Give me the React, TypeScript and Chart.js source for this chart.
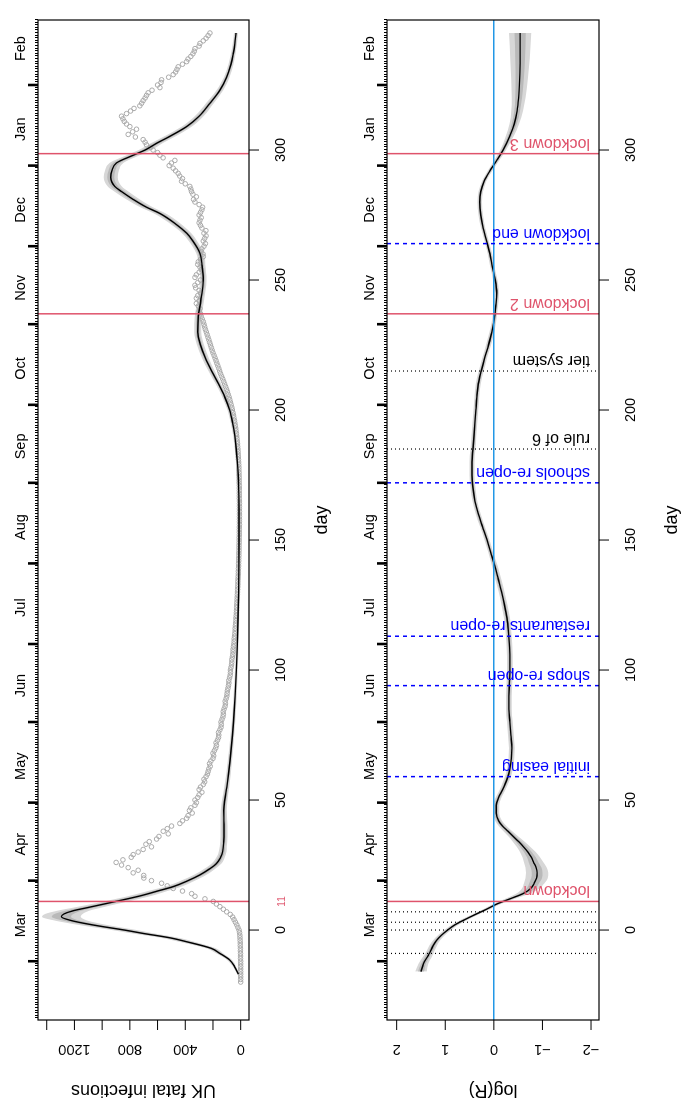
import React, { useEffect, useRef } from "react";
import { Chart, registerables } from "chart.js";

Chart.register(...registerables);

const FONT = '"Liberation Sans", Arial, Helvetica, sans-serif';
const RED = "#DF536B";
const BLUE = "#0000FF";
const SKY = "#2297E6";
const BAND_OUTER = "#D7D7D7";
const BAND_INNER = "#B9B9B9";

// ---- shared day axis ----
const DAY_MIN = -34.6;
const DAY_MAX = 350;
const dayTicks = [0, 50, 100, 150, 200, 250, 300];
const monthNames = ["Mar", "Apr", "May", "Jun", "Jul", "Aug", "Sep", "Oct", "Nov", "Dec", "Jan", "Feb"];
const monthMidDays = [2, 33, 63, 94, 124, 155, 186, 216, 247, 277, 308, 339];
const monthStartDays = [-12, 19, 49, 80, 110, 141, 172, 202, 233, 263, 294, 325];

// ---- panel 1: UK fatal infections ----
const p1Days = [-17, -14, -11.5, -9, -7, -4.5, -3, -1.3, 0, 1.5, 3, 3.8, 5.1, 6.2, 7.4, 8.8, 10.2, 11.6, 13.1, 15, 16.7, 19, 21.2, 23.5, 25.6, 28, 30.1, 34, 38, 42, 46, 50, 55, 60, 70, 80, 90, 100, 110, 120, 130, 140, 150, 160, 170, 175, 180, 185, 190, 195, 200, 205, 210, 215, 220, 225, 230, 236, 242, 250, 256, 260.3, 265, 268, 272, 275.6, 278, 281, 284, 286, 289.5, 292, 295, 298, 300, 302.6, 305, 309, 313, 318, 323, 328, 333, 337, 341, 345];
const p1Fit = [17, 45, 80, 150, 215, 390, 510, 704, 840, 1017, 1170, 1234, 1294, 1275, 1210, 1090, 969, 850, 728, 600, 487, 380, 294, 225, 174, 145, 130, 122, 120, 121, 122, 115, 100, 88, 68, 52, 40, 31, 24, 19, 15, 13, 12, 12, 15, 18, 24, 32, 42, 58, 80, 115, 160, 210, 255, 290, 310, 306, 288, 270, 280, 294, 345, 390, 480, 583, 680, 776, 860, 909, 938, 930, 897, 776, 690, 607, 520, 390, 300, 222, 150, 101, 70, 54, 42, 34];
const p1Outer = [8, 12, 18, 25, 35, 55, 65, 80, 90, 100, 110, 120, 140, 135, 115, 100, 90, 85, 80, 70, 60, 50, 45, 40, 35, 30, 28, 25, 25, 24, 22, 20, 18, 16, 14, 12, 11, 10, 9, 9, 8, 8, 8, 8, 8, 8, 9, 10, 11, 13, 15, 18, 20, 22, 24, 25, 25, 25, 24, 24, 25, 27, 30, 33, 38, 42, 45, 48, 50, 50, 50, 50, 50, 48, 46, 43, 40, 36, 32, 28, 24, 20, 18, 16, 15, 14];
const p1Inner = [4, 6, 9, 13, 18, 28, 33, 40, 45, 50, 55, 60, 70, 68, 58, 50, 45, 43, 40, 35, 30, 25, 23, 20, 18, 15, 14, 13, 13, 12, 11, 10, 9, 8, 7, 6, 6, 5, 5, 5, 4, 4, 4, 4, 4, 4, 5, 5, 6, 7, 8, 9, 10, 11, 12, 13, 13, 13, 12, 12, 13, 14, 15, 17, 19, 21, 23, 24, 25, 25, 25, 25, 25, 24, 23, 22, 20, 18, 16, 14, 12, 10, 9, 8, 8, 7];

// daily deaths, first value is day -20
const deathFirstDay = -20;
const deaths = [
  0, 0, 0, 0, 0, 0, 0, 0, 0, 1, 1, 1, 2, 2, 3, 3, 4, 5, 6, 8,
  12, 20, 28, 38, 48, 58, 75, 101, 125, 150, 175, 198, 258, 330, 354, 420, 487, 530, 571, 644,
  699, 700, 776, 740, 812, 860, 899, 850, 790, 776, 740, 704, 644, 684, 660, 607, 590, 523, 559, 530,
  499, 439, 420,
  390, 380, 350, 370, 360, 330, 320, 330, 310, 300, 280, 300, 290, 270, 260, 265, 250, 240,
  235, 230, 220, 225, 215, 200, 195, 200, 190, 180, 175, 178, 168, 160, 158, 160, 150, 142, 140, 142, 135, 128, 125, 126, 120, 113, 110, 112, 105, 100,
  98, 96, 92, 88, 85, 86, 80, 76, 74, 74, 70, 66, 64, 64, 60, 57, 55, 55, 52, 49, 47, 47, 44, 42, 40, 40, 38, 36, 34, 34,
  32, 31, 30, 29, 28, 27, 26, 25, 24, 23, 22, 21, 20, 20, 19, 18, 17, 17, 16, 15, 15, 14, 14, 13, 13, 12, 12, 12, 11, 11,
  11, 10, 10, 10, 10, 9, 9, 9, 9, 9, 9, 9, 9, 9, 9, 10, 10, 10, 10, 10, 10, 11, 11, 11, 12, 12, 13, 13, 14, 15,
  16, 17, 18, 19, 20, 22, 23, 25, 27, 29, 31, 34, 36, 39, 42, 45, 49, 52, 56, 60, 64, 69, 74, 79, 84, 90, 96, 102, 109, 116,
  123, 130, 138, 146, 152, 158, 165, 172, 178, 185, 192, 200, 206, 212, 218, 224, 230, 236, 242, 248, 255, 260, 265, 270, 278, 285, 290, 300, 294, 306,
  320, 300, 320, 310, 290, 300, 325, 330, 310, 290, 330, 320, 300, 285, 294, 310, 306, 290, 270, 272, 285, 280, 265, 255, 270, 260, 250, 265, 251, 280,
  290, 300, 294, 285, 300, 290, 280, 275, 300, 330, 340, 320, 345, 355, 360, 367, 400, 427, 420, 440, 451, 470, 487, 516, 500, 475, 560, 583, 600, 632,
  650, 680, 690, 704, 760, 812, 780, 752, 800, 824, 840, 850, 860, 824, 795, 770, 728, 715, 704, 690, 680, 668, 640, 583, 600, 575, 571, 520, 487, 470,
  460, 451, 420, 390, 380, 360, 345, 335, 330, 300, 294, 270, 250, 235, 222,
];

const p1YTicks = [0, 200, 400, 600, 800, 1000, 1200, 1400];
const p1YLabelled = [0, 400, 800, 1200];
const p1YLabels = ["0", "400", "800", "1200"];
const lockdownDays = [11, 237, 298.6];
const lockdownNote = "11";
const lockdownNoteDay = 11;

// ---- panel 2: log(R) ----
const p2Days = [-16, -13, -10, -8, -6, -4, -2, 0, 2, 4, 6, 8, 10, 12, 14, 16, 18, 20, 22, 24, 26, 28, 30, 32, 34, 36, 38, 40, 42, 45, 48, 51, 54, 58, 62, 66, 70, 75, 80, 85, 90, 95, 100, 105, 110, 115, 120, 125, 130, 135, 140, 145, 150, 155, 160, 165, 170, 175, 180, 185, 190, 195, 200, 205, 210, 215, 220, 225, 230, 235, 240, 245, 250, 255, 260, 265, 270, 275, 280, 284, 288, 292, 296, 300, 305, 310, 315, 320, 327, 335, 345];
const p2Fit = [1.5, 1.45, 1.36, 1.3, 1.25, 1.18, 1.08, 0.95, 0.8, 0.6, 0.38, 0.15, -0.06, -0.33, -0.6, -0.76, -0.83, -0.88, -0.89, -0.87, -0.82, -0.77, -0.7, -0.61, -0.51, -0.4, -0.29, -0.18, -0.1, -0.05, -0.05, -0.1, -0.18, -0.27, -0.33, -0.36, -0.37, -0.35, -0.33, -0.31, -0.31, -0.32, -0.33, -0.33, -0.32, -0.3, -0.27, -0.22, -0.16, -0.09, -0.02, 0.06, 0.14, 0.23, 0.32, 0.39, 0.43, 0.45, 0.45, 0.43, 0.41, 0.39, 0.37, 0.35, 0.32, 0.26, 0.19, 0.11, 0.04, -0.01, -0.04, -0.06, -0.03, 0.03, 0.08, 0.15, 0.22, 0.27, 0.29, 0.27, 0.2, 0.08, -0.06, -0.19, -0.32, -0.42, -0.48, -0.51, -0.53, -0.54, -0.54];
const p2Outer = [0.12, 0.1, 0.09, 0.08, 0.08, 0.07, 0.07, 0.07, 0.07, 0.07, 0.07, 0.07, 0.08, 0.1, 0.14, 0.18, 0.21, 0.23, 0.23, 0.22, 0.2, 0.18, 0.16, 0.14, 0.12, 0.1, 0.09, 0.08, 0.07, 0.06, 0.06, 0.06, 0.06, 0.06, 0.06, 0.06, 0.06, 0.06, 0.06, 0.06, 0.06, 0.06, 0.06, 0.06, 0.06, 0.06, 0.06, 0.06, 0.06, 0.06, 0.06, 0.05, 0.05, 0.05, 0.05, 0.05, 0.05, 0.05, 0.05, 0.05, 0.05, 0.05, 0.05, 0.05, 0.05, 0.05, 0.05, 0.05, 0.05, 0.045, 0.045, 0.045, 0.045, 0.045, 0.045, 0.045, 0.045, 0.045, 0.045, 0.045, 0.045, 0.045, 0.05, 0.06, 0.08, 0.1, 0.12, 0.14, 0.17, 0.2, 0.23];
const p2Inner = [0.06, 0.05, 0.045, 0.04, 0.04, 0.035, 0.035, 0.035, 0.035, 0.035, 0.035, 0.035, 0.04, 0.05, 0.07, 0.09, 0.1, 0.11, 0.11, 0.11, 0.1, 0.09, 0.08, 0.07, 0.06, 0.05, 0.045, 0.04, 0.035, 0.03, 0.03, 0.03, 0.03, 0.03, 0.03, 0.03, 0.03, 0.03, 0.03, 0.03, 0.03, 0.03, 0.03, 0.03, 0.03, 0.03, 0.03, 0.03, 0.03, 0.03, 0.03, 0.025, 0.025, 0.025, 0.025, 0.025, 0.025, 0.025, 0.025, 0.025, 0.025, 0.025, 0.025, 0.025, 0.025, 0.025, 0.025, 0.025, 0.025, 0.022, 0.022, 0.022, 0.022, 0.022, 0.022, 0.022, 0.022, 0.022, 0.022, 0.022, 0.022, 0.022, 0.025, 0.03, 0.04, 0.05, 0.06, 0.07, 0.085, 0.1, 0.115];

const p2YTicks = [-2, -1, 0, 1, 2];
const p2YLabelled = [-2, -1, 0, 1, 2];
const p2YLabels = ["\u22122", "\u22121", "0", "1", "2"];

const eventDays = [-9, 0, 3, 7, 11, 59, 94, 113, 172, 185, 215, 237, 264, 298.6];
const eventLabels = ["", "", "", "", "lockdown", "initial easing", "shops re-open", "restaurants re-open", "schools re-open", "rule of 6", "tier system", "lockdown 2", "lockdown end", "lockdown 3"];
const eventKinds = ["dot", "dot", "dot", "dot", "lock", "ease", "ease", "ease", "ease", "dot", "dot", "lock", "ease", "lock"];

// ---------------------------------------------------------------
const W = 1120;
const H = 350;

function pts(days: number[], mid: number[], half?: number[], sign = 0) {
  return days.map((d, i) => ({ x: d, y: mid[i] + (half ? sign * half[i] : 0) }));
}

function bandSets(days: number[], mid: number[], outer: number[], inner: number[]) {
  const base: any = {
    borderWidth: 0,
    borderColor: "rgba(0,0,0,0)",
    pointRadius: 0,
    cubicInterpolationMode: "monotone",
  };
  return [
    { ...base, data: pts(days, mid, outer, -1), fill: false, order: 5 },
    { ...base, data: pts(days, mid, outer, 1), fill: "-1", backgroundColor: BAND_OUTER, order: 4 },
    { ...base, data: pts(days, mid, inner, -1), fill: false, order: 3 },
    { ...base, data: pts(days, mid, inner, 1), fill: "-1", backgroundColor: BAND_INNER, order: 2 },
  ];
}

function kindStyle(kind: string) {
  if (kind === "lock") return { color: RED, width: 1.5, dash: [] as number[] };
  if (kind === "ease") return { color: BLUE, width: 1.5, dash: [4, 4] };
  return { color: "#000", width: 1.2, dash: [1, 3] };
}

function framePlugin(cfg: any) {
  return {
    id: "rframe",
    afterDatasetsDraw(chart: any) {
      const ctx = chart.ctx;
      const a = chart.chartArea;
      const xs = chart.scales.x;
      const ys = chart.scales.y;
      ctx.save();
      ctx.beginPath();
      ctx.rect(a.left, a.top, a.right - a.left, a.bottom - a.top);
      ctx.clip();
      if (cfg.zeroLine) {
        const y0 = ys.getPixelForValue(0);
        ctx.strokeStyle = SKY;
        ctx.lineWidth = 1.5;
        ctx.setLineDash([]);
        ctx.beginPath();
        ctx.moveTo(a.left, y0);
        ctx.lineTo(a.right, y0);
        ctx.stroke();
      }
      cfg.events.forEach((ev: any) => {
        const st = kindStyle(ev.kind);
        const x = xs.getPixelForValue(ev.day);
        ctx.strokeStyle = st.color;
        ctx.lineWidth = st.width;
        ctx.setLineDash(st.dash);
        ctx.beginPath();
        ctx.moveTo(x, a.top);
        ctx.lineTo(x, a.bottom);
        ctx.stroke();
      });
      ctx.restore();
    },
    afterDraw(chart: any) {
      const ctx = chart.ctx;
      const a = chart.chartArea;
      const xs = chart.scales.x;
      const ys = chart.scales.y;
      ctx.save();
      ctx.setLineDash([]);
      ctx.strokeStyle = "#000";
      ctx.fillStyle = "#000";

      // event annotation texts
      cfg.events.forEach((ev: any) => {
        if (!ev.label) return;
        const st = kindStyle(ev.kind);
        const x = xs.getPixelForValue(ev.day);
        ctx.save();
        ctx.fillStyle = st.color;
        ctx.font = `16px ${FONT}`;
        ctx.translate(x + 15, a.bottom - 9);
        ctx.rotate(-Math.PI / 2);
        ctx.textAlign = "left";
        ctx.textBaseline = "alphabetic";
        ctx.fillText(ev.label, 0, 0);
        ctx.restore();
      });

      // box
      ctx.lineWidth = 1.2;
      ctx.strokeRect(a.left, a.top, a.right - a.left, a.bottom - a.top);

      // bottom day axis
      ctx.lineWidth = 1;
      ctx.font = `14.5px ${FONT}`;
      ctx.textAlign = "center";
      ctx.textBaseline = "alphabetic";
      dayTicks.forEach((d) => {
        const x = xs.getPixelForValue(d);
        ctx.beginPath();
        ctx.moveTo(x, a.bottom);
        ctx.lineTo(x, a.bottom + 10);
        ctx.stroke();
        ctx.fillText(String(d), x, a.bottom + 36);
      });
      if (cfg.note) {
        ctx.save();
        ctx.fillStyle = RED;
        ctx.font = `10px ${FONT}`;
        ctx.fillText(cfg.note.text, xs.getPixelForValue(cfg.note.day), a.bottom + 36);
        ctx.restore();
      }
      ctx.font = `18px ${FONT}`;
      ctx.fillText("day", (a.left + a.right) / 2, a.bottom + 78);

      // top month axis: daily minor ticks, monthly major ticks
      ctx.lineWidth = 1;
      ctx.beginPath();
      for (let d = Math.ceil(DAY_MIN); d <= Math.floor(DAY_MAX); d++) {
        const x = Math.round(xs.getPixelForValue(d)) + 0.5;
        ctx.moveTo(x, a.top);
        ctx.lineTo(x, a.top - 3);
      }
      ctx.stroke();
      ctx.lineWidth = 2.6;
      monthStartDays.forEach((d) => {
        const x = xs.getPixelForValue(d);
        ctx.beginPath();
        ctx.moveTo(x, a.top);
        ctx.lineTo(x, a.top - 10);
        ctx.stroke();
      });
      ctx.font = `14.5px ${FONT}`;
      monthNames.forEach((m, i) => {
        ctx.fillText(m, xs.getPixelForValue(monthMidDays[i]), a.top - 13);
      });

      // left value axis
      ctx.lineWidth = 1;
      cfg.yTicks.forEach((v: number) => {
        const y = ys.getPixelForValue(v);
        ctx.beginPath();
        ctx.moveTo(a.left, y);
        ctx.lineTo(a.left - 10, y);
        ctx.stroke();
      });
      cfg.yLabelled.forEach((v: number, i: number) => {
        const y = ys.getPixelForValue(v);
        ctx.save();
        ctx.translate(a.left - 25, y);
        ctx.rotate(-Math.PI / 2);
        ctx.textAlign = "center";
        ctx.fillText(cfg.yLabels[i], 0, 0);
        ctx.restore();
      });
      ctx.save();
      ctx.font = `18px ${FONT}`;
      ctx.translate(a.left - 65, (a.top + a.bottom) / 2);
      ctx.rotate(-Math.PI / 2);
      ctx.textAlign = "center";
      ctx.fillText(cfg.yTitle, 0, 0);
      ctx.restore();

      ctx.restore();
    },
  };
}

function buildChart(canvas: HTMLCanvasElement, cfg: any) {
  const datasets: any[] = [...bandSets(cfg.days, cfg.fit, cfg.outer, cfg.inner)];
  if (cfg.deaths) {
    datasets.push({
      data: cfg.deaths,
      showLine: false,
      pointRadius: 2.3,
      pointBorderWidth: 1,
      pointBorderColor: "#AAAAAA",
      pointBackgroundColor: "rgba(0,0,0,0)",
      pointStyle: "circle",
      order: 1,
    });
  }
  datasets.push({
    data: pts(cfg.days, cfg.fit),
    borderColor: "#000",
    borderWidth: 1.4,
    pointRadius: 0,
    fill: false,
    cubicInterpolationMode: "monotone",
    order: 0,
  });
  return new Chart(canvas, {
    type: "line",
    data: { datasets },
    options: {
      responsive: false,
      maintainAspectRatio: false,
      animation: false,
      devicePixelRatio: 1,
      events: [],
      layout: { autoPadding: false, padding: { left: 100, right: 20, top: cfg.top, bottom: 101 } },
      plugins: { legend: { display: false }, tooltip: { enabled: false } },
      scales: {
        x: { type: "linear", min: DAY_MIN, max: DAY_MAX, display: false },
        y: { type: "linear", min: cfg.yMin, max: cfg.yMax, display: false },
      },
    } as any,
    plugins: [framePlugin(cfg)],
  });
}

export default function App() {
  const ref1 = useRef<HTMLCanvasElement>(null);
  const ref2 = useRef<HTMLCanvasElement>(null);

  useEffect(() => {
    const deathPts = deaths.map((v, i) => ({ x: deathFirstDay + i, y: v }));
    const c1 = buildChart(ref1.current as HTMLCanvasElement, {
      days: p1Days,
      fit: p1Fit,
      outer: p1Outer,
      inner: p1Inner,
      deaths: deathPts,
      top: 38,
      yMin: -60,
      yMax: 1463,
      yTicks: p1YTicks,
      yLabelled: p1YLabelled,
      yLabels: p1YLabels,
      yTitle: "UK fatal infections",
      zeroLine: false,
      note: { text: lockdownNote, day: lockdownNoteDay },
      events: lockdownDays.map((d) => ({ day: d, kind: "lock", label: "" })),
    });
    const c2 = buildChart(ref2.current as HTMLCanvasElement, {
      days: p2Days,
      fit: p2Fit,
      outer: p2Outer,
      inner: p2Inner,
      deaths: null,
      top: 37,
      yMin: -2.164,
      yMax: 2.199,
      yTicks: p2YTicks,
      yLabelled: p2YLabelled,
      yLabels: p2YLabels,
      yTitle: "log(R)",
      zeroLine: true,
      note: null,
      events: eventDays.map((d, i) => ({ day: d, kind: eventKinds[i], label: eventLabels[i] })),
    });
    return () => {
      c1.destroy();
      c2.destroy();
    };
  }, []);

  return (
    <div
      style={{
        position: "absolute",
        left: 0,
        top: 0,
        width: W,
        height: 2 * H,
        background: "#fff",
        transformOrigin: "0 0",
        transform: `translate(0px, ${W}px) rotate(-90deg)`,
      }}
    >
      <canvas ref={ref1} width={W} height={H} style={{ position: "absolute", left: 0, top: 0, width: W, height: H }} />
      <canvas ref={ref2} width={W} height={H} style={{ position: "absolute", left: 0, top: H, width: W, height: H }} />
    </div>
  );
}
